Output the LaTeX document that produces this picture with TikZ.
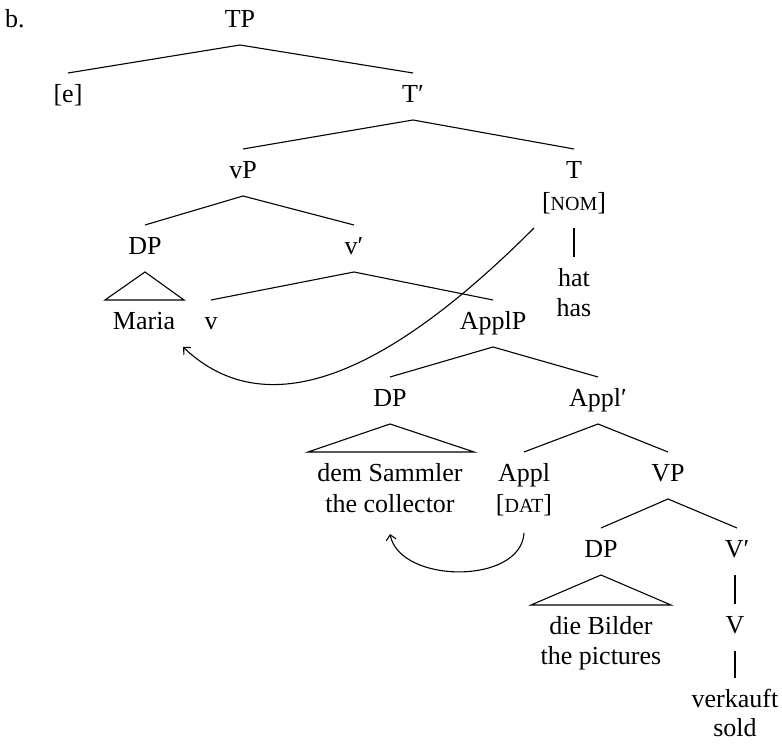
\documentclass[tikz,border=0pt]{standalone}
\usepackage{fontspec}
\setmainfont{Liberation Serif}
\usetikzlibrary{calc,arrows.meta}
\begin{document}
\begin{tikzpicture}[x=0.5pt,y=-0.5pt,
  lbl/.style={inner sep=0pt,outer sep=0pt,text height=15pt,text depth=8.5pt,anchor=base,font=\fontsize{13}{15}\selectfont},
  edge/.style={line width=0.55pt},
  mv/.style={line width=0.55pt,-{Straight Barb[length=2.6pt,width=5pt]}}]
\useasboundingbox (0,0) rectangle (782,747);
\newcommand{\smc}[1]{{\fontsize{10}{12}\selectfont #1}}
% nodes
\node[lbl,anchor=base west] (b) at (5,28) {b.};
\node[lbl] (TP) at (240,28) {TP};
\node[lbl] (e) at (68,103) {[e]};
\node[lbl] (Tbar) at (413,103) {T′};
\node[lbl] (vP) at (243,179) {vP};
\node[lbl] (T) at (574,179) {T};
\node[lbl] (nom) at (574,211) {[\smc{NOM}]};
\node[lbl] (hat) at (574,287) {hat};
\node[lbl] (has) at (574,317) {has};
\node[lbl] (DPa) at (145,255) {DP};
\node[lbl] (vbar) at (354,255) {v′};
\node[lbl] (maria) at (144,330) {Maria};
\node[lbl] (v) at (211,330) {v};
\node[lbl] (applP) at (493,330) {ApplP};
\node[lbl] (DPb) at (390,407) {DP};
\node[lbl] (applbar) at (598,407) {Appl′};
\node[lbl] (ds) at (390,482) {dem Sammler};
\node[lbl] (tc) at (390,513) {the collector};
\node[lbl] (appl) at (524,482) {Appl};
\node[lbl] (dat) at (524,513) {[\smc{DAT}]};
\node[lbl] (VP) at (668,482) {VP};
\node[lbl] (DPc) at (601,558) {DP};
\node[lbl] (Vbar) at (737,558) {V′};
\node[lbl] (bilder) at (601,635) {die Bilder};
\node[lbl] (pictures) at (601,665) {the pictures};
\node[lbl] (V) at (735,634) {V};
\node[lbl] (verkauft) at (735,708) {verkauft};
\node[lbl] (sold) at (735,737) {sold};
% branches
\draw[edge] (e.north) -- (TP.south) -- (Tbar.north);
\draw[edge] (vP.north) -- (Tbar.south) -- (T.north);
\draw[edge] (DPa.north) -- (vP.south) -- (vbar.north);
\draw[edge] (v.north) -- (vbar.south) -- (applP.north);
\draw[edge] (DPb.north) -- (applP.south) -- (applbar.north);
\draw[edge] (appl.north) -- (applbar.south) -- (VP.north);
\draw[edge] (DPc.north) -- (VP.south) -- (Vbar.north);
\draw[edge] (nom.south) -- (hat.north);
\draw[edge] (V.north |- Vbar.south) -- (V.north);
\draw[edge] (V.south) -- (verkauft.north);
% triangles
\draw[edge] (DPa.south) -- ($(maria.north)+(-39,0)$) -- ($(maria.north)+(40,0)$) -- cycle;
\draw[edge] (DPb.south) -- ($(ds.north)+(-82,0)$) -- ($(ds.north)+(84,0)$) -- cycle;
\draw[edge] (DPc.south) -- ($(bilder.north)+(-70,0)$) -- ($(bilder.north)+(70,0)$) -- cycle;
% movement arrows
\draw[mv] ([xshift=-4pt]nom.south west) .. controls +(-110,110) and +(100,95) .. ([xshift=4pt]maria.south east);
\draw[mv] ([yshift=-1.5pt]dat.south) .. controls +(-3,52) and +(10,50) .. ([yshift=-2pt]tc.south);
\end{tikzpicture}
\end{document}
